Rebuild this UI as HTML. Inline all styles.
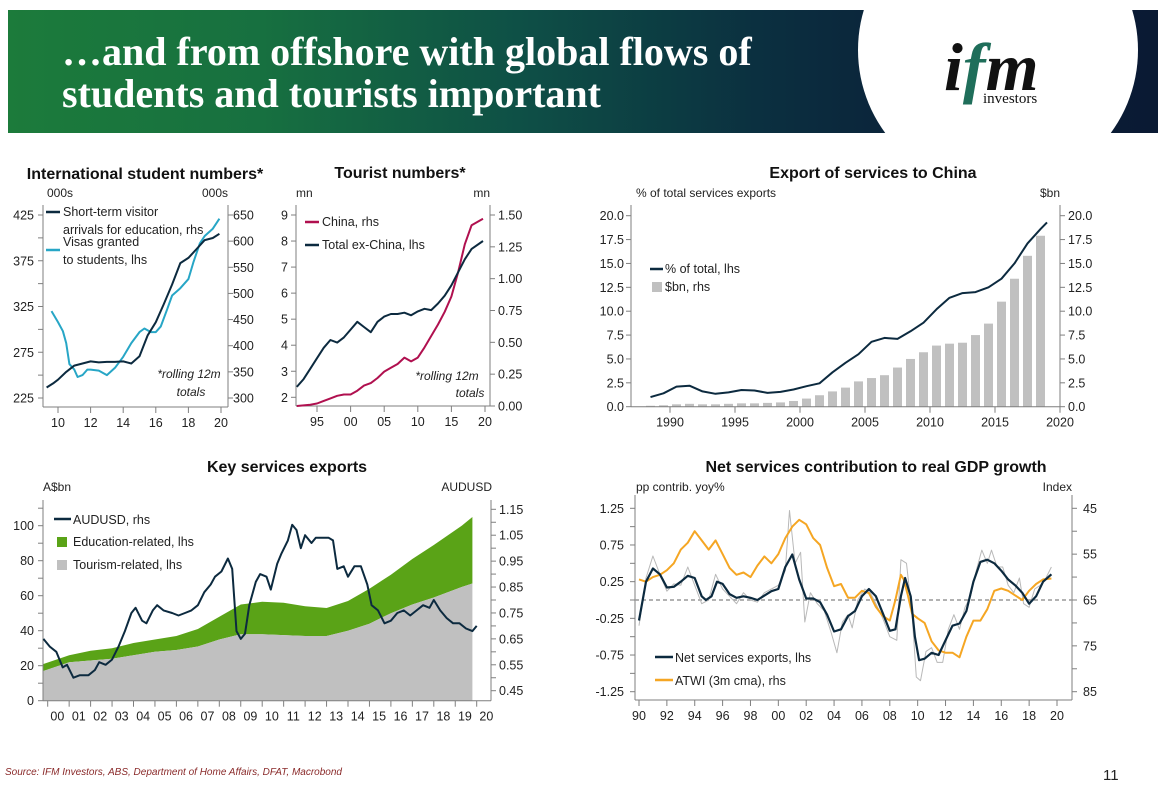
<!DOCTYPE html>
<html><head><meta charset="utf-8">
<style>
html,body{margin:0;padding:0;background:#fff;}
body{width:1167px;height:791px;position:relative;overflow:hidden;font-family:"Liberation Sans",sans-serif;}
#banner{position:absolute;left:8px;top:10px;width:1150px;height:123px;overflow:hidden;
background:linear-gradient(90deg,#1c7b3b 0%,#177040 22%,#0e4f46 45%,#0b3040 65%,#0b1f38 82%,#0a1a33 100%);}
#logo-circle{position:absolute;left:850px;top:-100px;width:280px;height:280px;border-radius:50%;background:#fff;}
#title{position:absolute;left:54px;top:21px;color:#fff;font-family:"Liberation Serif",serif;font-weight:bold;font-size:40px;line-height:42px;}
#chart-svg{position:absolute;left:0;top:0;}
</style></head>
<body>
<div id="banner">
  <div id="logo-circle"></div>
  <div id="title">…and from offshore with global flows of<br>students and tourists important</div>
</div>
<svg id="chart-svg" width="1167" height="791" viewBox="0 0 1167 791"></svg>
<script>
// ---------- DATA ----------
// Chart 1: International student numbers
const visaYears=[2009.6,2010.0,2010.3,2010.5,2010.7,2011.0,2011.2,2011.5,2011.8,2012.0,2012.5,2013.0,2013.5,2014.0,2014.5,2015.0,2015.3,2015.7,2016.0,2016.3,2016.7,2017.0,2017.5,2018.0,2018.3,2018.7,2019.0,2019.5,2019.9];
const visaValues=[320,308,298,285,262,256,248,250,256,256,255,250,258,270,285,297,301,297,297,303,322,337,345,355,373,394,402,410,421];
const arrivalYears=[2009.3,2009.7,2010.0,2010.5,2011.0,2011.5,2012.0,2012.5,2013.0,2013.5,2014.0,2014.5,2015.0,2015.5,2016.0,2016.5,2017.0,2017.5,2018.0,2018.5,2019.0,2019.5,2019.9];
const arrivalValues=[320,328,335,350,362,366,370,368,369,369,370,366,380,420,445,480,517,558,568,585,602,606,614];
const studentLeftTicks=[225,275,325,375,425];
const studentRightTicks=[300,350,400,450,500,550,600,650];
const studentXTicks=[2010,2012,2014,2016,2018,2020];
// Chart 2: Tourist numbers
const touristYears=[1992,1993,1994,1995,1996,1997,1998,1999,2000,2001,2002,2003,2004,2005,2006,2007,2008,2009,2010,2011,2012,2013,2014,2015,2016,2017,2018,2019.7];
const exChinaValues=[2.4,2.7,3.1,3.5,3.9,4.2,4.1,4.3,4.6,4.9,4.7,4.5,4.9,5.1,5.2,5.2,5.25,5.15,5.3,5.4,5.35,5.6,5.9,6.3,6.8,7.3,7.7,8.0];
const chinaValues=[0.0,0.005,0.01,0.02,0.04,0.06,0.08,0.09,0.09,0.12,0.16,0.18,0.22,0.27,0.30,0.33,0.38,0.35,0.38,0.46,0.55,0.64,0.74,0.86,1.05,1.27,1.42,1.47];
const touristLeftTicks=[2,3,4,5,6,7,8,9];
const touristRightTicks=[0,0.25,0.5,0.75,1.0,1.25,1.5];
const touristXTicks=[1995,2000,2005,2010,2015,2020];
const touristXLabels=['95','00','05','10','15','20'];
// Chart 3: Export of services to China
const chinaExpYears=[1988,1989,1990,1991,1992,1993,1994,1995,1996,1997,1998,1999,2000,2001,2002,2003,2004,2005,2006,2007,2008,2009,2010,2011,2012,2013,2014,2015,2016,2017,2018];
const chinaExpBn=[0.1,0.15,0.25,0.3,0.25,0.25,0.3,0.35,0.35,0.4,0.45,0.6,0.85,1.2,1.6,2.0,2.65,3.0,3.3,4.1,5.0,5.7,6.4,6.6,6.7,7.5,8.7,11.0,13.4,15.8,17.9];
const chinaExpShare=[1.0,1.4,2.1,2.2,1.6,1.35,1.5,1.75,1.7,1.45,1.55,1.8,2.15,2.45,3.6,4.6,5.5,6.8,7.2,7.1,7.9,8.8,10.2,11.4,11.9,12.0,12.5,13.4,15.0,17.1,18.6];
const chinaExpLast=[2018.5,19.3];
const chinaExpTicks=[0,2.5,5,7.5,10,12.5,15,17.5,20];
const chinaExpXTicks=[1990,1995,2000,2005,2010,2015,2020];
// Chart 4: Key services exports
const areaYears=[1999.8,2001,2002,2003,2004,2005,2006,2007,2008,2009,2010,2011,2012,2013,2014,2015,2016,2017,2018,2019.3,2019.8];
const tourismValues=[17,22,23,24,26,28,29,31,35,38,38,37.5,37,37,40,44,50,55,59,65,67];
const educationTop=[21,26,28.5,30,33,35,37,41,48,55,56.5,56,54,53,57,64,72,81,89,100,105];
const audYears=[1999.8,2000.1,2000.4,2000.7,2000.9,2001.2,2001.5,2001.9,2002.2,2002.4,2002.7,2003.0,2003.3,2003.6,2003.9,2004.1,2004.4,2004.6,2004.9,2005.1,2005.4,2005.8,2006.1,2006.4,2006.7,2007.0,2007.3,2007.6,2007.8,2008.1,2008.4,2008.6,2008.8,2009.0,2009.2,2009.4,2009.7,2009.9,2010.2,2010.4,2010.7,2010.9,2011.2,2011.4,2011.6,2011.8,2012.0,2012.3,2012.5,2012.8,2013.1,2013.3,2013.5,2013.8,2014.0,2014.3,2014.6,2014.9,2015.1,2015.4,2015.7,2016.0,2016.3,2016.6,2016.9,2017.2,2017.5,2017.8,2018.0,2018.3,2018.6,2018.9,2019.2,2019.5,2019.8,2020.0];
const audValues=[0.65,0.62,0.60,0.54,0.55,0.50,0.51,0.51,0.53,0.56,0.55,0.57,0.62,0.68,0.75,0.77,0.72,0.71,0.76,0.78,0.76,0.75,0.74,0.75,0.76,0.78,0.83,0.86,0.89,0.91,0.96,0.92,0.68,0.65,0.67,0.78,0.87,0.90,0.89,0.84,0.94,0.98,1.03,1.09,1.07,1.00,1.05,1.02,1.04,1.04,1.04,1.03,0.92,0.93,0.89,0.93,0.93,0.86,0.78,0.76,0.71,0.72,0.75,0.76,0.74,0.76,0.78,0.77,0.80,0.76,0.73,0.71,0.71,0.69,0.68,0.70];
const keyLeftTicks=[0,20,40,60,80,100];
const keyRightTicks=[0.45,0.55,0.65,0.75,0.85,0.95,1.05,1.15];
const keyXYears=[2000,2001,2002,2003,2004,2005,2006,2007,2008,2009,2010,2011,2012,2013,2014,2015,2016,2017,2018,2019,2020];
const keyXLabels=['00','01','02','03','04','05','06','07','08','09','10','11','12','13','14','15','16','17','18','19','20'];
// Chart 5: Net services contribution
const netYears=[1990.0,1990.5,1991.0,1991.5,1992.0,1992.5,1993.0,1993.5,1994.0,1994.5,1994.8,1995.2,1995.6,1996.0,1996.5,1997.0,1997.5,1998.0,1998.5,1999.0,1999.5,2000.0,2000.5,2001.0,2001.5,2002.0,2002.5,2003.0,2003.5,2004.0,2004.5,2005.0,2005.5,2006.0,2006.5,2007.0,2007.5,2008.0,2008.4,2008.8,2009.1,2009.5,2009.8,2010.1,2010.5,2011.0,2011.5,2012.0,2012.5,2013.0,2013.5,2014.0,2014.5,2015.0,2015.5,2016.0,2016.5,2017.0,2017.5,2018.0,2018.5,2019.0,2019.6];
const netValues=[-0.28,0.25,0.43,0.35,0.17,0.18,0.25,0.33,0.30,0.05,0.0,0.05,0.25,0.22,0.08,0.03,0.05,0.03,0.0,0.06,0.12,0.15,0.45,0.62,0.28,0.02,0.02,-0.03,-0.20,-0.43,-0.40,-0.22,-0.15,0.05,0.15,0.05,-0.18,-0.42,-0.40,0.05,0.30,0.05,-0.50,-0.82,-0.80,-0.72,-0.75,-0.55,-0.35,-0.32,-0.15,0.25,0.52,0.55,0.50,0.40,0.28,0.20,0.10,-0.05,0.05,0.25,0.35];
const rawYears=[1990,1990.5,1991,1991.5,1992,1992.5,1993,1993.5,1994,1994.5,1995,1995.5,1996,1996.5,1997,1997.5,1998,1998.5,1999,1999.5,2000,2000.5,2000.8,2001.2,2001.6,2001.9,2002.3,2002.8,2003.3,2003.8,2004.2,2004.6,2005.0,2005.3,2005.7,2006.2,2006.6,2007.0,2007.5,2008.0,2008.5,2008.8,2009.2,2009.6,2009.9,2010.2,2010.6,2011.0,2011.4,2011.8,2012.2,2012.6,2013.0,2013.4,2013.8,2014.2,2014.6,2015.0,2015.3,2015.7,2016.1,2016.5,2016.9,2017.3,2017.6,2018.0,2018.4,2018.8,2019.2,2019.6];
const rawValues=[-0.35,0.3,0.6,0.35,0.12,0.22,0.2,0.45,0.2,-0.05,0.0,0.35,0.15,0.05,-0.05,0.1,0.0,-0.03,0.1,0.15,0.2,0.4,1.22,0.5,0.65,-0.3,0.1,-0.05,-0.15,-0.45,-0.72,-0.3,-0.2,-0.38,0.0,0.15,0.1,-0.05,-0.25,-0.5,-0.55,0.55,0.5,-0.2,-1.05,-1.1,-0.7,-0.65,-0.85,-0.85,-0.4,-0.2,-0.4,-0.1,0.05,0.4,0.68,0.5,0.68,0.45,0.45,0.2,0.1,0.3,-0.05,-0.1,0.15,0.2,0.3,0.45];
const atwiYears=[1990.0,1990.5,1991.0,1991.5,1992.0,1992.5,1993.0,1993.5,1994.0,1994.5,1995.0,1995.5,1996.0,1996.5,1997.0,1997.5,1998.0,1998.5,1999.0,1999.5,2000.0,2000.5,2001.0,2001.5,2002.0,2002.5,2003.0,2003.5,2004.0,2004.5,2005.0,2005.5,2006.0,2006.5,2007.0,2007.5,2008.0,2008.4,2008.8,2009.0,2009.3,2009.6,2010.0,2010.5,2011.0,2011.5,2012.0,2012.5,2013.0,2013.5,2014.0,2014.5,2015.0,2015.5,2016.0,2016.5,2017.0,2017.5,2018.0,2018.5,2019.0,2019.6];
const atwiValues=[60.5,61,60,59.5,58.5,57,54,52.5,50,52,54,52,55,58,59.5,59,60,57.5,55.5,57,55,51.5,49,47.5,48.5,51.5,53,58,62,61.5,64.5,64.5,63,63.5,66.5,68.5,69.5,65,59.5,60.5,64,68,69,70,74,76,76.5,76.5,77.5,73,69.5,69.5,67,63,62.5,63,64,65,63,61.5,60.5,60.3];
const netLeftTicks=[-1.25,-0.75,-0.25,0.25,0.75,1.25];
const netLeftLabels=['-1.25','-0.75','-0.25','0.25','0.75','1.25'];
const netRightTicks=[45,55,65,75,85];
const netXYears=[1990,1992,1994,1996,1998,2000,2002,2004,2006,2008,2010,2012,2014,2016,2018,2020];
const netXLabels=['90','92','94','96','98','00','02','04','06','08','10','12','14','16','18','20'];

// ---------- HELPERS ----------
const NS='http://www.w3.org/2000/svg';
const svg=document.getElementById('chart-svg');
function el(tag,attrs,parent){const e=document.createElementNS(NS,tag);for(const k in attrs)e.setAttribute(k,attrs[k]);(parent||svg).appendChild(e);return e;}
function txt(str,attrs,parent){const e=el('text',attrs,parent);e.textContent=str;return e;}
function lin(d0,d1,r0,r1){return v=>r0+(v-d0)*(r1-r0)/(d1-d0);}
function pathFrom(xs,ys,fx,fy){return xs.map((x,i)=>(i?'L':'M')+fx(x).toFixed(1)+','+fy(ys[i]).toFixed(1)).join('');}
const AX='#7f7f7f', DARK='#0c2a3f', FS=12.5;
function frame(g,l,r,top,bottom){
  let a=el('line',{x1:l,y1:top,x2:l,y2:bottom,stroke:AX,'stroke-width':1},g);
  
  
  let b=el('line',{x1:r,y1:top,x2:r,y2:bottom,stroke:AX,'stroke-width':1},g);
  
  
  let c=el('line',{x1:l,y1:bottom,x2:r,y2:bottom,stroke:AX,'stroke-width':1},g);
  
  
}
function yTicks(g,vals,labels,fy,axisX,side,labelX){
  vals.forEach((v,i)=>{
    const y=fy(v);
    let t=el('line',{x1:axisX,y1:y,x2:axisX+(side<0?-5:5),y2:y,stroke:AX},g);
    
    
    let s=txt(labels[i],{x:labelX,y:y+4.5,'font-size':FS,fill:'#222','text-anchor':side<0?'end':'start'},g);
    
    
  });
}
function minorTicks(g,vals,fy,axisX,side){
  vals.forEach(v=>{
    let t=el('line',{x1:axisX,y1:fy(v),x2:axisX+(side<0?-5:5),y2:fy(v),stroke:AX},g);
    
    
  });
}
function xTicks(g,vals,labels,fx,axisY,labelOffset){
  vals.forEach((v,i)=>{
    let t=el('line',{x1:fx(v),y1:axisY,x2:fx(v),y2:axisY+6,stroke:AX},g);
    
    
    let s=txt(labels[i],{x:fx(v+(labelOffset||0)),y:axisY+20,'font-size':FS,fill:'#222','text-anchor':'middle'},g);
    
    
  });
}
function label(g,str,x,y,opts,name){
  const a=Object.assign({x:x,y:y,'font-size':FS,fill:'#222'},opts||{});
  const s=txt(str,a,g);
  
  
  return s;
}
function line(g,xs,ys,fx,fy,color,w,name){
  const p=el('path',{d:pathFrom(xs,ys,fx,fy),fill:'none',stroke:color,'stroke-width':w,'stroke-linejoin':'round'},g);
  
  
  return p;
}
function legLine(g,x1,x2,y,color,name){
  const l=el('line',{x1:x1,y1:y,x2:x2,y2:y,stroke:color,'stroke-width':2.5},g);
  
  
}
function legBox(g,x,y,color,name){
  const r=el('rect',{x:x,y:y,width:10,height:10,fill:color},g);
  
  
}
const TITLE={'font-size':16,'font-weight':'bold','text-anchor':'middle',fill:'#111'};

// ---------- CHART 1 ----------
(function(){
  const g=el('g',{});
  
  
  const fx=lin(2010,2020,58,221), fyL=lin(225,425,398,215), fyR=lin(300,650,398,215);
  label(g,'International student numbers*',145,179,TITLE,'chart-title');
  label(g,'000s',47,197,{'font-size':12},'left-unit-label');
  label(g,'000s',228,197,{'font-size':12,'text-anchor':'end'},'right-unit-label');
  frame(g,43,228,205,407);
  yTicks(g,studentLeftTicks,studentLeftTicks.map(String),fyL,43,-1,34);
  minorTicks(g,[250,300,350,400],fyL,43,-1);
  yTicks(g,studentRightTicks,studentRightTicks.map(String),fyR,228,1,233);
  xTicks(g,studentXTicks,studentXTicks.map(v=>String(v-2000)),fx,407,0);
  line(g,visaYears,visaValues,fx,fyL,'#27a6c6',2,'visas-line');
  line(g,arrivalYears,arrivalValues,fx,fyR,DARK,2,'arrivals-line');
  legLine(g,46,60,212,DARK,'legend-arrivals-swatch');
  label(g,'Short-term visitor',63,216,{},'legend-arrivals-text');
  label(g,'arrivals for education, rhs',63,234,{},'legend-arrivals-text-2');
  legLine(g,46,60,250,'#27a6c6','legend-visas-swatch');
  label(g,'Visas granted',63,246,{},'legend-visas-text');
  label(g,'to students, lhs',63,264,{},'legend-visas-text-2');
  label(g,'*rolling 12m',189,378,{'font-size':12,'font-style':'italic','text-anchor':'middle'},'note-rolling');
  label(g,'totals',191,396,{'font-size':12,'font-style':'italic','text-anchor':'middle'},'note-totals');
})();

// ---------- CHART 2 ----------
(function(){
  const g=el('g',{});
  
  
  const fx=lin(1995,2020,317,485), fyL=lin(2,9,397.3,215), fyR=lin(0,1.5,406,215);
  label(g,'Tourist numbers*',400,178,TITLE,'chart-title');
  label(g,'mn',296,197,{'font-size':12},'left-unit-label');
  label(g,'mn',490,197,{'font-size':12,'text-anchor':'end'},'right-unit-label');
  frame(g,296,490,205,406);
  yTicks(g,touristLeftTicks,touristLeftTicks.map(String),fyL,296,-1,288);
  yTicks(g,touristRightTicks,touristRightTicks.map(v=>v.toFixed(2)),fyR,490,1,498);
  xTicks(g,touristXTicks,touristXLabels,fx,406,0);
  line(g,touristYears,chinaValues,fx,fyR,'#b0104f',2,'china-line');
  line(g,touristYears,exChinaValues,fx,fyL,DARK,2,'ex-china-line');
  legLine(g,305,319,222,'#b0104f','legend-china-swatch');
  label(g,'China, rhs',322,226,{},'legend-china-text');
  legLine(g,305,319,245,DARK,'legend-exchina-swatch');
  label(g,'Total ex-China, lhs',322,249,{},'legend-exchina-text');
  label(g,'*rolling 12m',447,380,{'font-size':12,'font-style':'italic','text-anchor':'middle'},'note-rolling');
  label(g,'totals',470,397,{'font-size':12,'font-style':'italic','text-anchor':'middle'},'note-totals');
})();

// ---------- CHART 3 ----------
(function(){
  const g=el('g',{});
  
  
  const fx=lin(1990,2020,670,1060), fy=lin(0,20,406.7,215.7);
  label(g,'Export of services to China',873,178,TITLE,'chart-title');
  label(g,'% of total services exports',636,197,{'font-size':12},'left-unit-label');
  label(g,'$bn',1060,197,{'font-size':12,'text-anchor':'end'},'right-unit-label');
  chinaExpYears.forEach((yr,i)=>{
    const r=el('rect',{x:fx(yr+0.5)-4.5,y:fy(chinaExpBn[i]),width:9,height:fy(0)-fy(chinaExpBn[i]),fill:'#c0c0c0'},g);
    
    
  });
  frame(g,631,1060,205,406.7);
  yTicks(g,chinaExpTicks,chinaExpTicks.map(v=>v.toFixed(1)),fy,631,-1,624);
  yTicks(g,chinaExpTicks,chinaExpTicks.map(v=>v.toFixed(1)),fy,1060,1,1068);
  xTicks(g,chinaExpXTicks,chinaExpXTicks.map(String),fx,406.7,0);
  line(g,chinaExpYears.map(v=>v+0.5).concat([chinaExpLast[0]+0.5]),chinaExpShare.concat([chinaExpLast[1]]),fx,fy,DARK,2,'share-line');
  legLine(g,650,663,269,DARK,'legend-share-swatch');
  label(g,'% of total, lhs',665,273,{},'legend-share-text');
  legBox(g,652,282,'#c0c0c0','legend-bn-swatch');
  label(g,'$bn, rhs',665,291,{},'legend-bn-text');
})();

// ---------- CHART 4 ----------
(function(){
  const g=el('g',{});
  
  
  const fx=lin(2000,2020,47.7,476.7), fyL=lin(0,100,700.7,525.7), fyR=lin(0.45,1.15,690.7,509.3);
  label(g,'Key services exports',287,472,TITLE,'chart-title');
  label(g,'A$bn',43,491,{'font-size':12},'left-unit-label');
  label(g,'AUDUSD',492,491,{'font-size':12,'text-anchor':'end'},'right-unit-label');
  let d='M'+areaYears.map((x,i)=>fx(x).toFixed(1)+','+fyL(educationTop[i]).toFixed(1)).join('L');
  d+='L'+areaYears.slice().reverse().map((x,j)=>fx(x).toFixed(1)+','+fyL(tourismValues[areaYears.length-1-j]).toFixed(1)).join('L')+'Z';
  const ea=el('path',{d:d,fill:'#5aa317'},g);
  
  
  let d2='M'+fx(areaYears[0]).toFixed(1)+','+fyL(0)+'L'+areaYears.map((x,i)=>fx(x).toFixed(1)+','+fyL(tourismValues[i]).toFixed(1)).join('L')+'L'+fx(areaYears[areaYears.length-1]).toFixed(1)+','+fyL(0)+'Z';
  const ta=el('path',{d:d2,fill:'#c0c0c0'},g);
  
  
  frame(g,43,491,500,700.7);
  yTicks(g,keyLeftTicks,keyLeftTicks.map(String),fyL,43,-1,34);
  minorTicks(g,[10,30,50,70,90,110],fyL,43,-1);
  yTicks(g,keyRightTicks,keyRightTicks.map(v=>v.toFixed(2)),fyR,491,1,499);
  minorTicks(g,[0.5,0.6,0.7,0.8,0.9,1.0,1.1],fyR,491,1);
  xTicks(g,keyXYears,keyXLabels,fx,700.7,0.45);
  line(g,audYears,audValues,fx,fyR,DARK,2,'audusd-line');
  legLine(g,54,71,519,DARK,'legend-audusd-swatch');
  label(g,'AUDUSD, rhs',73,524,{},'legend-audusd-text');
  legBox(g,57,537,'#5aa317','legend-education-swatch');
  label(g,'Education-related, lhs',73,546,{},'legend-education-text');
  legBox(g,57,560,'#c0c0c0','legend-tourism-swatch');
  label(g,'Tourism-related, lhs',73,569,{},'legend-tourism-text');
})();

// ---------- CHART 5 ----------
(function(){
  const g=el('g',{});
  
  
  const fx=lin(1990,2020,639,1057), fyL=lin(-1.25,1.25,691.7,508.3), fyR=lin(45,85,508.3,691.7);
  label(g,'Net services contribution to real GDP growth',876,472,TITLE,'chart-title');
  label(g,'pp contrib. yoy%',636,491,{'font-size':12},'left-unit-label');
  label(g,'Index',1072,491,{'font-size':12,'text-anchor':'end'},'right-unit-label');
  frame(g,635,1072,495,700);
  const z=el('line',{x1:635,y1:fyL(0),x2:1072,y2:fyL(0),stroke:'#999','stroke-width':1.5,'stroke-dasharray':'4,3'},g);
  
  
  yTicks(g,netLeftTicks,netLeftLabels,fyL,635,-1,624);
  minorTicks(g,[-1,-0.5,0,0.5,1],fyL,635,-1);
  yTicks(g,netRightTicks,netRightTicks.map(String),fyR,1072,1,1083);
  minorTicks(g,[50,60,70,80],fyR,1072,1);
  xTicks(g,netXYears,netXLabels,fx,700,0);
  line(g,rawYears,rawValues,fx,fyL,'#b8b8b8',1,'net-raw-line');
  line(g,atwiYears,atwiValues,fx,fyR,'#f5a623',2,'atwi-line');
  line(g,netYears,netValues,fx,fyL,DARK,2.2,'net-services-line');
  legLine(g,655,673,657,DARK,'legend-net-swatch');
  label(g,'Net services exports, lhs',675,662,{},'legend-net-text');
  legLine(g,655,673,680,'#f5a623','legend-atwi-swatch');
  label(g,'ATWI (3m cma), rhs',675,685,{},'legend-atwi-text');
})();

// ---------- LOGO & FOOTER ----------
(function(){
  const g=el('g',{});
  
  
  const t=txt('',{x:944,y:90,'font-family':'"Liberation Serif",serif','font-size':68,'font-style':'italic','font-weight':'bold',fill:'#111'},g);
  
  
  const s1=el('tspan',{},t); s1.textContent='i';
  const s2=el('tspan',{fill:'#1f6e5a'},t); s2.textContent='f';
  const s3=el('tspan',{},t); s3.textContent='m';
  label(g,'investors',983,103,{'font-family':'"Liberation Serif",serif','font-size':15,fill:'#111'},'logo-subtitle');
  label(svg,'Source: IFM Investors, ABS, Department of Home Affairs, DFAT, Macrobond',5,775,{'font-size':10,'font-style':'italic',fill:'#8a2a2a'},'source-note');
  label(svg,'11',1103,780,{'font-size':15,fill:'#222'},'page-number');
})();
</script>
</body></html>
